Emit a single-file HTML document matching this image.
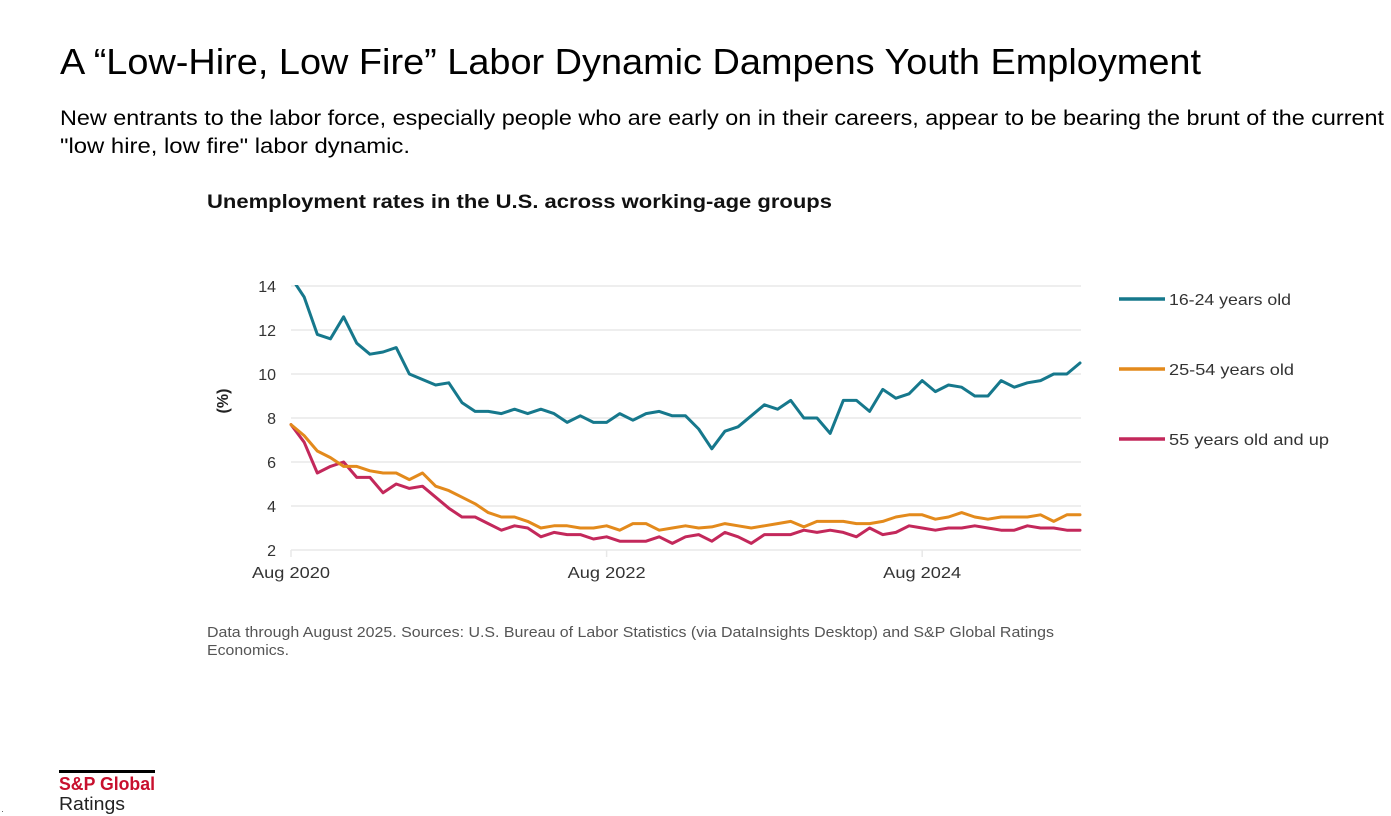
<!DOCTYPE html>
<html><head><meta charset="utf-8"><style>
html,body{margin:0;padding:0;background:#fff;}
svg{display:block;}
text{font-family:"Liberation Sans",Arial,sans-serif;}
</style></head><body>
<svg width="1391" height="816" viewBox="0 0 1391 816" xmlns="http://www.w3.org/2000/svg">
<rect width="1391" height="816" fill="#fff"/>
<text x="60" y="74" font-size="36" fill="#000" textLength="1141" lengthAdjust="spacingAndGlyphs">A “Low-Hire, Low Fire” Labor Dynamic Dampens Youth Employment</text>
<text x="60" y="125" font-size="21" fill="#000" textLength="1324" lengthAdjust="spacingAndGlyphs">New entrants to the labor force, especially people who are early on in their careers, appear to be bearing the brunt of the current</text>
<text x="60" y="153" font-size="21" fill="#000" textLength="350" lengthAdjust="spacingAndGlyphs">"low hire, low fire" labor dynamic.</text>
<text x="207" y="208" font-size="19" font-weight="bold" fill="#111" textLength="625" lengthAdjust="spacingAndGlyphs">Unemployment rates in the U.S. across working-age groups</text>
<g stroke="#e8e8e8" stroke-width="1.5">
<line x1="291" y1="286" x2="1081" y2="286"/>
<line x1="291" y1="330" x2="1081" y2="330"/>
<line x1="291" y1="374" x2="1081" y2="374"/>
<line x1="291" y1="418" x2="1081" y2="418"/>
<line x1="291" y1="462" x2="1081" y2="462"/>
<line x1="291" y1="506" x2="1081" y2="506"/>
<line x1="291" y1="550" x2="1081" y2="550"/>
<line x1="291" y1="550" x2="291" y2="557"/>
<line x1="606.6" y1="550" x2="606.6" y2="557"/>
<line x1="922.2" y1="550" x2="922.2" y2="557"/>
</g>
<g font-size="16" fill="#333" text-anchor="end">
<text x="276" y="292">14</text>
<text x="276" y="336">12</text>
<text x="276" y="380">10</text>
<text x="276" y="424">8</text>
<text x="276" y="468">6</text>
<text x="276" y="512">4</text>
<text x="276" y="556">2</text>
</g>
<text transform="translate(228,401) rotate(-90)" font-size="16" font-weight="bold" fill="#222" text-anchor="middle">(%)</text>
<g font-size="16" fill="#333" text-anchor="middle">
<text x="291" y="578" textLength="78" lengthAdjust="spacingAndGlyphs">Aug 2020</text>
<text x="606.6" y="578" textLength="78" lengthAdjust="spacingAndGlyphs">Aug 2022</text>
<text x="922.2" y="578" textLength="78" lengthAdjust="spacingAndGlyphs">Aug 2024</text>
</g>
<defs><clipPath id="pc"><rect x="285" y="285" width="800" height="280"/></clipPath></defs>
<g fill="none" stroke-width="3" stroke-linejoin="round" stroke-linecap="round" clip-path="url(#pc)">
<polyline stroke="#c3285b" points="291,424.6 304.15,442.2 317.3,473 330.45,466.4 343.6,462 356.75,477.4 369.9,477.4 383.05,492.8 396.2,484 409.35,488.4 422.5,486.2 435.65,497.2 448.8,508.2 461.95,517 475.1,517 488.25,523.6 501.4,530.2 514.55,525.8 527.7,528 540.85,536.8 554,532.4 567.15,534.6 580.3,534.6 593.45,539 606.6,536.8 619.75,541.2 632.9,541.2 646.05,541.2 659.2,536.8 672.35,543.4 685.5,536.8 698.65,534.6 711.8,541.2 724.95,532.4 738.1,536.8 751.25,543.4 764.4,534.6 777.55,534.6 790.7,534.6 803.85,530.2 817,532.4 830.15,530.2 843.3,532.4 856.45,536.8 869.6,528 882.75,534.6 895.9,532.4 909.05,525.8 922.2,528 935.35,530.2 948.5,528 961.65,528 974.8,525.8 987.95,528 1001.1,530.2 1014.25,530.2 1027.4,525.8 1040.55,528 1053.7,528 1066.85,530.2 1080,530.2"/>
<polyline stroke="#e38a1c" points="291,424.6 304.15,435.6 317.3,451 330.45,457.6 343.6,466.4 356.75,466.4 369.9,470.8 383.05,473 396.2,473 409.35,479.6 422.5,473 435.65,486.2 448.8,490.6 461.95,497.2 475.1,503.8 488.25,512.6 501.4,517 514.55,517 527.7,521.4 540.85,528 554,525.8 567.15,525.8 580.3,528 593.45,528 606.6,525.8 619.75,530.2 632.9,523.6 646.05,523.6 659.2,530.2 672.35,528 685.5,525.8 698.65,528 711.8,526.9 724.95,523.6 738.1,525.8 751.25,528 764.4,525.8 777.55,523.6 790.7,521.4 803.85,526.9 817,521.4 830.15,521.4 843.3,521.4 856.45,523.6 869.6,523.6 882.75,521.4 895.9,517 909.05,514.8 922.2,514.8 935.35,519.2 948.5,517 961.65,512.6 974.8,517 987.95,519.2 1001.1,517 1014.25,517 1027.4,517 1040.55,514.8 1053.7,521.4 1066.85,514.8 1080,514.8"/>
<polyline stroke="#16788c" points="291,277.2 304.15,297 317.3,334.4 330.45,338.8 343.6,316.8 356.75,343.2 369.9,354.2 383.05,352 396.2,347.6 409.35,374 422.5,379.5 435.65,385 448.8,382.8 461.95,402.6 475.1,411.4 488.25,411.4 501.4,413.6 514.55,409.2 527.7,413.6 540.85,409.2 554,413.6 567.15,422.4 580.3,415.8 593.45,422.4 606.6,422.4 619.75,413.6 632.9,420.2 646.05,413.6 659.2,411.4 672.35,415.8 685.5,415.8 698.65,429 711.8,448.8 724.95,431.2 738.1,426.8 751.25,415.8 764.4,404.8 777.55,409.2 790.7,400.4 803.85,418 817,418 830.15,433.4 843.3,400.4 856.45,400.4 869.6,411.4 882.75,389.4 895.9,398.2 909.05,393.8 922.2,380.6 935.35,391.6 948.5,385 961.65,387.2 974.8,396 987.95,396 1001.1,380.6 1014.25,387.2 1027.4,382.8 1040.55,380.6 1053.7,374 1066.85,374 1080,363"/>
</g>
<g stroke-width="3.5">
<line x1="1119" y1="299" x2="1165" y2="299" stroke="#16788c"/>
<line x1="1119" y1="369" x2="1165" y2="369" stroke="#e38a1c"/>
<line x1="1119" y1="439" x2="1165" y2="439" stroke="#c3285b"/>
</g>
<g font-size="16" fill="#333">
<text x="1169" y="305" textLength="122" lengthAdjust="spacingAndGlyphs">16-24 years old</text>
<text x="1169" y="375" textLength="125" lengthAdjust="spacingAndGlyphs">25-54 years old</text>
<text x="1169" y="445" textLength="160" lengthAdjust="spacingAndGlyphs">55 years old and up</text>
</g>
<g font-size="14.5" fill="#555">
<text x="207" y="637" textLength="847" lengthAdjust="spacingAndGlyphs">Data through August 2025. Sources: U.S. Bureau of Labor Statistics (via DataInsights Desktop) and S&amp;P Global Ratings</text>
<text x="207" y="655" textLength="82" lengthAdjust="spacingAndGlyphs">Economics.</text>
</g>
<rect x="59" y="770" width="96" height="3" fill="#000"/>
<text x="59" y="790" font-size="18" font-weight="bold" fill="#c8102e" textLength="96" lengthAdjust="spacingAndGlyphs">S&amp;P Global</text>
<text x="59" y="810" font-size="18" fill="#222" textLength="66" lengthAdjust="spacingAndGlyphs">Ratings</text>
<rect x="2" y="811" width="1" height="1" fill="#666"/>
</svg>
</body></html>
